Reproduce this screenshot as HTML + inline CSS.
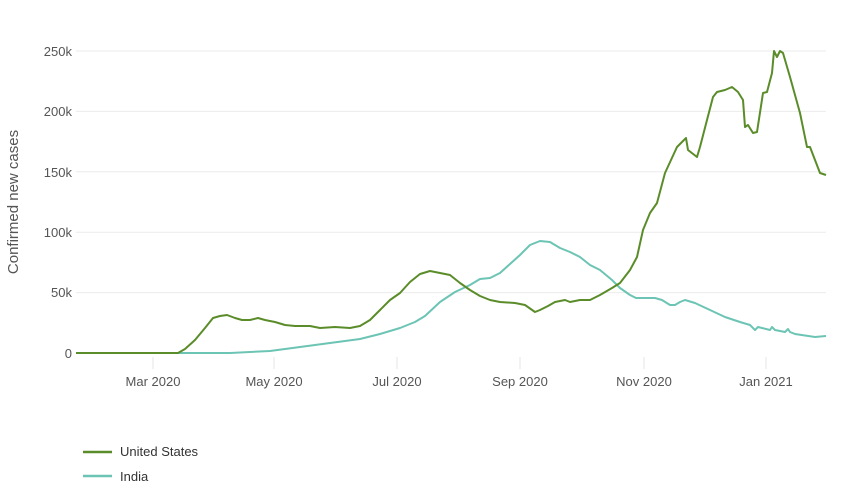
<!DOCTYPE html>
<html><head><meta charset="utf-8"><style>
body{margin:0;background:#fff;}
svg{display:block;font-family:"Liberation Sans",sans-serif;}
</style></head><body>
<svg width="850" height="495" viewBox="0 0 850 495">
<g stroke="#ebebeb" stroke-width="1">
<line x1="76" y1="51" x2="826" y2="51"/>
<line x1="76" y1="111.4" x2="826" y2="111.4"/>
<line x1="76" y1="171.8" x2="826" y2="171.8"/>
<line x1="76" y1="232.2" x2="826" y2="232.2"/>
<line x1="76" y1="292.6" x2="826" y2="292.6"/>
</g>
<g stroke="#e6e6e6" stroke-width="1">
<line x1="153" y1="357" x2="153" y2="369"/>
<line x1="274" y1="357" x2="274" y2="369"/>
<line x1="397" y1="357" x2="397" y2="369"/>
<line x1="520" y1="357" x2="520" y2="369"/>
<line x1="644" y1="357" x2="644" y2="369"/>
<line x1="766" y1="357" x2="766" y2="369"/>
</g>
<g fill="#555" font-size="13" text-anchor="end">
<text x="72" y="56">250k</text>
<text x="72" y="116">200k</text>
<text x="72" y="177">150k</text>
<text x="72" y="237">100k</text>
<text x="72" y="297">50k</text>
<text x="72" y="358">0</text>
</g>
<g fill="#555" font-size="13" text-anchor="middle">
<text x="153" y="386">Mar 2020</text>
<text x="274" y="386">May 2020</text>
<text x="397" y="386">Jul 2020</text>
<text x="520" y="386">Sep 2020</text>
<text x="644" y="386">Nov 2020</text>
<text x="766" y="386">Jan 2021</text>
</g>
<text transform="translate(18,202) rotate(-90)" fill="#555" font-size="15" text-anchor="middle">Confirmed new cases</text>
<polyline fill="none" stroke="#6cc4b4" stroke-width="2" stroke-linejoin="round" points="76,353 230,353 270,351 300,347 330,343 360,339 380,334 400,328 415,322 425,316 440,302 455,292 470,285 480,279 490,278 500,273 510,264 520,255 530,245 540,241 550,242 560,248 570,252 580,257 590,265 600,270 612,280 620,288 630,295 636,298 645,298 655,298 662,300 670,305 675,305 680,302 685,300 695,303 710,310 725,317 740,322 750,325 755,330 758,327 762,328 770,330 772,327 775,330 785,332 788,329 790,332 795,334 815,337 826,336"/>
<polyline fill="none" stroke="#5b8c2a" stroke-width="2" stroke-linejoin="round" points="76,353 178,353 185,349 195,340 205,328 213,318 220,316 227,315 235,318 242,320 250,320 258,318 265,320 275,322 285,325 295,326 310,326 320,328 335,327 350,328 360,326 370,320 380,310 390,300 400,293 410,282 420,274 430,271 440,273 450,275 460,283 470,290 480,296 490,300 500,302 515,303 525,305 535,312 540,310 548,306 555,302 565,300 570,302 580,300 590,300 600,295 612,288 620,283 630,270 637,257 643,230 650,213 657,203 665,173 677,147 686,138 688,150 697,157 700,147 707,120 713,97 717,92 725,90 732,87 738,92 743,100 745,127 748,125 753,133 757,132 763,93 767,92 772,73 774,51 777,57 780,51 783,53 790,77 800,113 807,147 810,147 820,173 826,175"/>
<line x1="83" y1="452" x2="112" y2="452" stroke="#5b8c2a" stroke-width="2.5"/>
<text x="120" y="456" fill="#333" font-size="13">United States</text>
<line x1="83" y1="476" x2="112" y2="476" stroke="#6cc4b4" stroke-width="2.5"/>
<text x="120" y="481" fill="#333" font-size="13">India</text>
</svg>
</body></html>
